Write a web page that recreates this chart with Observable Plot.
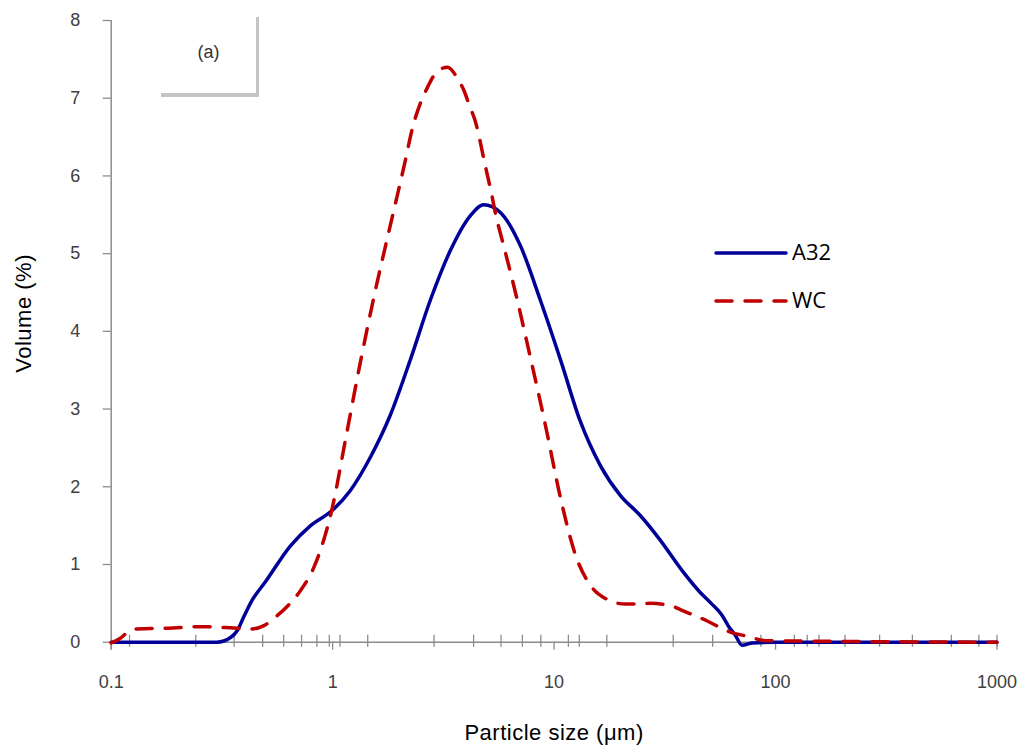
<!DOCTYPE html>
<html>
<head>
<meta charset="utf-8">
<script src="https://cdn.jsdelivr.net/npm/d3@7"></script>
<script src="https://cdn.jsdelivr.net/npm/@observablehq/plot@0.6"></script>
<style>
  body { margin: 0; background: #fff; }
  #wrap { position: relative; width: 1026px; height: 749px; overflow: hidden; }
  #box { position: absolute; left: 161px; top: 17px; width: 95px; height: 76px;
         border-right: 3px solid #c4c4c4; border-bottom: 4px solid #c4c4c4; }
  #boxlabel { position: absolute; left: 0; width: 100%; top: 26px; text-align: center;
              font-family: "Liberation Sans", Arial, sans-serif; font-size: 18px; color: #333; line-height: 1; }
  .leg { position: absolute; font-family: "Open Sans", sans-serif; font-size: 22px; color: #000; line-height: 1; }
  .legsvg { position: absolute; }
</style>
</head>
<body>
<div id="wrap">
  <div id="chart"></div>
  <div id="box"><div id="boxlabel">(a)</div></div>
  <svg class="legsvg" style="left:712px;top:247px" width="80" height="12">
    <line x1="4" x2="74" y1="6" y2="6" stroke="#000099" stroke-width="3.5" stroke-linecap="round"/>
  </svg>
  <div class="leg" style="left:792px;top:240px">A32</div>
  <svg class="legsvg" style="left:712px;top:295px" width="80" height="12">
    <line x1="4" x2="74" y1="6" y2="6" stroke="#C00000" stroke-width="3.5" stroke-linecap="round" stroke-dasharray="16,13"/>
  </svg>
  <div class="leg" style="left:792px;top:288px">WC</div>
</div>
<script>
// A32 series
const a32Size = [0.1, 0.2, 0.3, 0.346, 0.371, 0.396, 0.433, 0.498, 0.645, 0.795, 1.0, 1.2, 1.48, 1.82, 2.24, 2.76, 3.40, 4.19, 4.81, 5.72, 7.05, 8.67, 10.7, 13.1, 16.2, 19.9, 24.5, 30.2, 37.2, 45.7, 51.2, 56.9, 61.5, 65.8, 70.6, 78.5, 100, 1000];
const a32Vol  = [0, 0, 0, 0.06, 0.15, 0.32, 0.54, 0.78, 1.24, 1.50, 1.70, 1.95, 2.38, 2.92, 3.63, 4.40, 5.04, 5.49, 5.63, 5.53, 5.10, 4.40, 3.63, 2.85, 2.27, 1.89, 1.63, 1.31, 0.95, 0.64, 0.50, 0.36, 0.20, 0.09, -0.04, -0.01, 0, 0];
// WC series
const wcSize = [0.1, 0.11, 0.12, 0.13, 0.18, 0.253, 0.346, 0.426, 0.487, 0.561, 0.623, 0.718, 0.836, 1.0, 1.14, 1.34, 1.56, 1.82, 2.13, 2.29, 2.50, 2.66, 2.90, 3.30, 3.67, 3.93, 4.14, 4.39, 4.9, 5.2, 5.5, 5.76, 6.69, 7.82, 9.14, 10.7, 12.5, 14.6, 17.1, 21.0, 27.2, 33.5, 38.5, 49.4, 61.2, 75.9, 90, 1000];
const wcVol  = [-0.01, 0.05, 0.14, 0.17, 0.18, 0.20, 0.185, 0.17, 0.21, 0.34, 0.46, 0.67, 1.01, 1.75, 2.59, 3.63, 4.53, 5.36, 6.20, 6.61, 6.95, 7.12, 7.31, 7.40, 7.25, 7.09, 6.91, 6.72, 6.12, 5.79, 5.45, 5.23, 4.50, 3.66, 2.79, 1.85, 1.12, 0.73, 0.56, 0.49, 0.50, 0.47, 0.40, 0.27, 0.14, 0.07, 0.02, 0];
// axis ticks
const xTicks = [0.1, 1, 10, 100, 1000];
const xTickLabels = ["0.1", "1", "10", "100", "1000"];
const xMinorTicks = [0.121, 0.241, 0.359, 0.483, 0.601, 0.724, 0.849, 0.966, 1.08, 1.44, 2.87, 4.33, 5.76, 7.19, 8.71, 11.6, 13.0, 17.3, 34.5, 52.0, 85.9, 121.6, 139, 157, 206, 295, 415, 622, 828, 1000];
const yTicks = [0, 1, 2, 3, 4, 5, 6, 7, 8];
const seriesNames = ["A32", "WC"];
const xTitle = "Particle size (μm)";
const yTitle = "Volume (%)";

const a32 = a32Size.map((s, i) => ({size: s, vol: a32Vol[i], series: seriesNames[0]}));
const wc = wcSize.map((s, i) => ({size: s, vol: wcVol[i], series: seriesNames[1]}));

const gray = "#8c8c8c";
const chart = Plot.plot({
  width: 1026, height: 749,
  marginLeft: 110.7, marginRight: 29.5, marginTop: 20, marginBottom: 107.3,
  x: {type: "log", domain: [0.1, 1000]},
  y: {domain: [0, 8]},
  style: {fontFamily: "'Liberation Sans', Arial, sans-serif", fontSize: "18px", background: "#fff"},
  marks: [
    Plot.ruleX(xMinorTicks, {y1: -0.065, y2: 0.09, stroke: gray, strokeWidth: 1.3}),
    Plot.ruleY([0], {stroke: gray, strokeWidth: 1.5}),
    Plot.ruleX([0.1], {y1: -0.1, y2: 8, stroke: gray, strokeWidth: 1.5}),
    Plot.axisX({ticks: xTicks, tickFormat: d => xTickLabels[xTicks.indexOf(d)], tickSize: 8, tickPadding: 25, stroke: gray, fill: "#404040", label: null, strokeWidth: 1.3, fontSize: 18}),
    Plot.axisY({ticks: yTicks, tickSize: 8, tickPadding: 23, stroke: gray, fill: "#404040", label: null, strokeWidth: 1.3, fontSize: 18}),
    Plot.text([yTitle], {frameAnchor: "left", dx: -87, dy: -18, rotate: -90, textAnchor: "middle", lineAnchor: "middle", fontSize: 22, fill: "#000"}),
    Plot.text([xTitle], {frameAnchor: "bottom", dy: 91, textAnchor: "middle", lineAnchor: "middle", fontSize: 22, fill: "#000"}),
    Plot.line(a32, {x: "size", y: "vol", stroke: "#000099", strokeWidth: 3.5, curve: "monotone-x"}),
    Plot.line(wc, {x: "size", y: "vol", stroke: "#C00000", strokeWidth: 3.5, strokeDasharray: "16,13", strokeLinecap: "round", curve: "monotone-x"})
  ]
});
d3.select(chart).selectAll("text")
  .filter(function () { return this.textContent === xTitle || this.textContent === yTitle; })
  .attr("letter-spacing", "0.5px");
document.getElementById("chart").appendChild(chart);
</script>
</body>
</html>
